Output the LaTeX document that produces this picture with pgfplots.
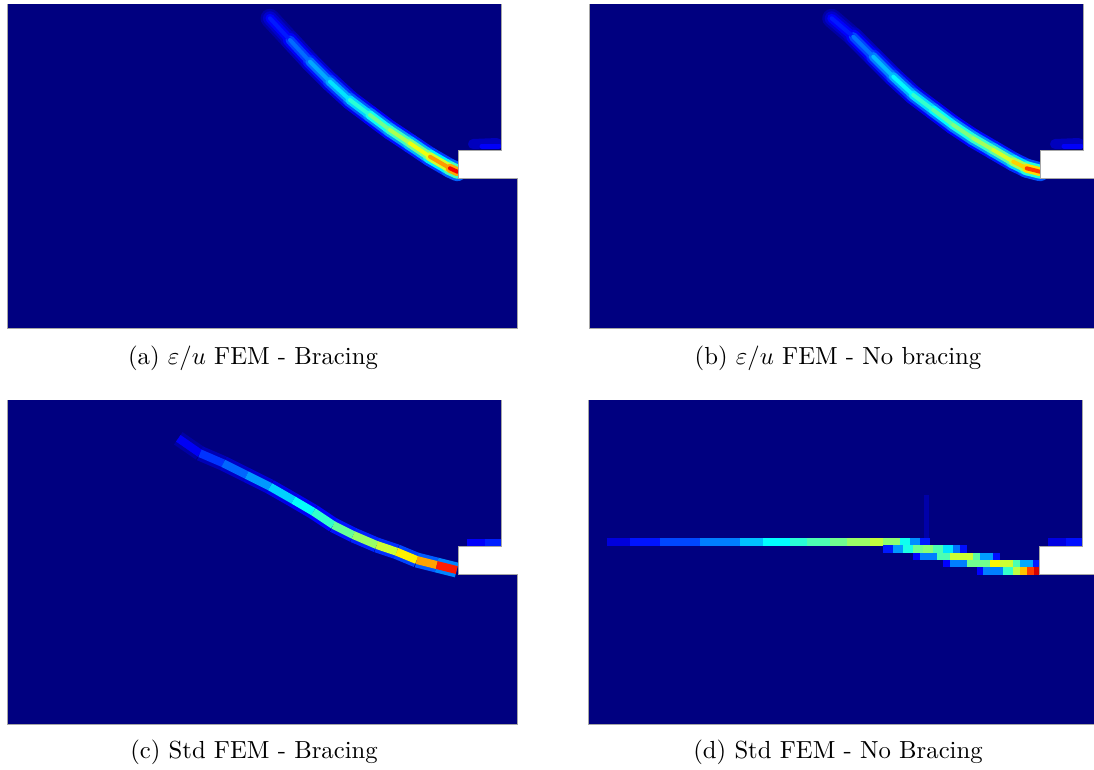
\documentclass[border=0pt]{standalone}
\usepackage{pgfplots}
\usepackage{pgfplotstable}
\pgfplotsset{compat=1.18}
\definecolor{navy}{RGB}{0,0,128}
\pgfplotsset{
  colormap={jetm}{rgb255(0cm)=(0,0,128) rgb255(1cm)=(0,0,255) rgb255(3cm)=(0,255,255) rgb255(5cm)=(255,255,0) rgb255(7cm)=(255,0,0) rgb255(8cm)=(128,0,0)},
  panel/.style={x=1bp,y=1bp,xmin=0,xmax=510,ymin=0,ymax=324,hide axis,clip=false,
    anchor=south west,colormap name=jetm,point meta min=0,point meta max=1},
}
% band centre lines (x, y, intensity)
\pgfplotstableread{
x y c
263 309.7 0.10
283 288 0.20
303 266.3 0.26
323 246.3 0.32
343 228 0.38
363 213 0.45
383 198 0.52
403 184.7 0.57
423 171.3 0.65
443 159.7 0.80
450.3 156.3 0.97
}\bandA
\pgfplotstableread{
x y c
242.7 309.7 0.10
264.3 291.3 0.20
284.3 271.3 0.28
304.3 251.3 0.34
324.3 233 0.40
344.3 218 0.45
364.3 203 0.48
384.3 189.7 0.52
404.3 178 0.55
424.3 166.3 0.62
437.7 159.7 0.72
451 156.3 0.92
}\bandB
\pgfplotstableread{
x y c
171.3 285.7 0.08
193 270.7 0.15
216.3 260.7 0.20
239.7 249 0.25
263 237.3 0.30
286.3 224 0.36
306.3 212.3 0.40
326.3 199 0.45
346.3 189 0.50
369.7 179 0.55
389.7 172.3 0.60
409.7 164 0.68
429.7 159 0.75
449.7 154 0.95
}\bandC
\pgfplotstableread{
x y c
18.7 182 0.06
42 182 0.12
72 182 0.17
112 182 0.22
152 182 0.28
175 182 0.35
202 182 0.40
219 182 0.43
242 182 0.47
259 182 0.50
282 182 0.55
295 182 0.58
312 182 0.45
322 182 0.33
332 182 0.20
342 182 0.10
}\rowDa
\pgfplotstableread{
x y c
295 175 0.10
305 175 0.20
315 175 0.35
325 175 0.45
335 175 0.52
345 175 0.50
355 175 0.40
365 175 0.30
372 175 0.18
379 175 0.10
}\rowDb
\pgfplotstableread{
x y c
325 167.7 0.10
332 167.7 0.15
349 167.7 0.35
362 167.7 0.55
375 167.7 0.60
385 167.7 0.55
392 167.7 0.38
405 167.7 0.18
412 167.7 0.10
}\rowDc
\pgfplotstableread{
x y c
355 160.3 0.10
362 160.3 0.15
379 160.3 0.35
402 160.3 0.62
412 160.3 0.65
425 160.3 0.50
432 160.3 0.40
445 160.3 0.18
452 160.3 0.12
}\rowDd
\pgfplotstableread{
x y c
389 153 0.10
395 153 0.15
415 153 0.35
425 153 0.50
432 153 0.62
439 153 0.75
446 153 0.88
452 153 0.95
}\rowDe
\begin{document}
\begin{tikzpicture}
\path[use as bounding box] (0,0) rectangle (1094bp,-770bp);
% ---------- (a)
\begin{axis}[panel, at={(7bp,-328bp)}]
\addplot[fill=navy,draw=none] coordinates {(0,0) (510,0) (510,150) (451,150) (451,178) (494.7,178) (494.7,324) (0,324)} -- cycle;
\addplot[mesh,line width=10bp,line cap=round,point meta=0.06] coordinates {(466,184) (490,185)};
\addplot[mesh,line width=5bp,line cap=round,point meta=0.12] coordinates {(475,182) (492,182)};
\addplot[mesh,line width=19bp,line cap=round,point meta={\thisrow{c}*0.25}] table {\bandA};
\addplot[mesh,line width=14bp,line cap=round,point meta={\thisrow{c}*0.5}] table {\bandA};
\addplot[mesh,line width=9bp,line cap=round,point meta={\thisrow{c}*0.8}] table {\bandA};
\addplot[mesh,line width=4bp,line cap=round,point meta={\thisrow{c}}] table {\bandA};
\addplot[fill=white,draw=none] coordinates {(451,150) (520,150) (520,178) (451,178)} -- cycle;
\addplot[fill=white,draw=none] coordinates {(494.7,178) (520,178) (520,330) (494.7,330)} -- cycle;
\addplot[draw=gray!70,line width=0.8bp] coordinates {(0,324) (0,0) (510,0) (510,150) (451,150) (451,178) (494.7,178) (494.7,324)};
\end{axis}
% ---------- (b)
\begin{axis}[panel, at={(589bp,-328bp)}]
\addplot[fill=navy,draw=none] coordinates {(0,0) (510,0) (510,150) (451,150) (451,178) (494.7,178) (494.7,324) (0,324)} -- cycle;
\addplot[mesh,line width=10bp,line cap=round,point meta=0.06] coordinates {(466,184) (490,185)};
\addplot[mesh,line width=5bp,line cap=round,point meta=0.12] coordinates {(475,182) (492,182)};
\addplot[mesh,line width=19bp,line cap=round,point meta={\thisrow{c}*0.25}] table {\bandB};
\addplot[mesh,line width=14bp,line cap=round,point meta={\thisrow{c}*0.5}] table {\bandB};
\addplot[mesh,line width=9bp,line cap=round,point meta={\thisrow{c}*0.8}] table {\bandB};
\addplot[mesh,line width=4bp,line cap=round,point meta={\thisrow{c}}] table {\bandB};
\addplot[fill=white,draw=none] coordinates {(451,150) (520,150) (520,178) (451,178)} -- cycle;
\addplot[fill=white,draw=none] coordinates {(494.7,178) (520,178) (520,330) (494.7,330)} -- cycle;
\addplot[draw=gray!70,line width=0.8bp] coordinates {(0,324) (0,0) (510,0) (510,150) (451,150) (451,178) (494.7,178) (494.7,324)};
\end{axis}
% ---------- (c)
\begin{axis}[panel, at={(7bp,-724bp)}]
\addplot[fill=navy,draw=none] coordinates {(0,0) (510,0) (510,150) (451,150) (451,178) (494.7,178) (494.7,324) (0,324)} -- cycle;
\addplot[mesh,line width=7bp,line cap=butt,point meta=explicit] coordinates {(460,182) [0.10] (478,182) [0.14] (494.7,182) [0.17]};
\addplot[mesh,line width=15bp,line cap=butt,point meta={\thisrow{c}*0.3}] table {\bandC};
\addplot[mesh,line width=8bp,line cap=butt,point meta={\thisrow{c}}] table {\bandC};
\addplot[fill=white,draw=none] coordinates {(451,150) (520,150) (520,178) (451,178)} -- cycle;
\addplot[fill=white,draw=none] coordinates {(494.7,178) (520,178) (520,330) (494.7,330)} -- cycle;
\addplot[draw=gray!70,line width=0.8bp] coordinates {(0,324) (0,0) (510,0) (510,150) (451,150) (451,178) (494.7,178) (494.7,324)};
\end{axis}
% ---------- (d)
\begin{axis}[panel, at={(588bp,-724bp)}]
\addplot[fill=navy,draw=none] coordinates {(0,0) (510,0) (510,150) (451,150) (451,178) (494.7,178) (494.7,324) (0,324)} -- cycle;
\addplot[mesh,line width=5bp,line cap=butt,point meta=0.04] coordinates {(338.7,186) (338.7,229)};
\addplot[mesh,line width=7.5bp,line cap=butt,point meta=explicit] coordinates {(460,182) [0.07] (478,182) [0.12] (494.7,182) [0.16]};
\addplot[mesh,line width=7.5bp,line cap=butt,point meta={\thisrow{c}}] table {\rowDa};
\addplot[mesh,line width=7.5bp,line cap=butt,point meta={\thisrow{c}}] table {\rowDb};
\addplot[mesh,line width=7.5bp,line cap=butt,point meta={\thisrow{c}}] table {\rowDc};
\addplot[mesh,line width=7.5bp,line cap=butt,point meta={\thisrow{c}}] table {\rowDd};
\addplot[mesh,line width=7.5bp,line cap=butt,point meta={\thisrow{c}}] table {\rowDe};
\addplot[fill=white,draw=none] coordinates {(451,150) (520,150) (520,178) (451,178)} -- cycle;
\addplot[fill=white,draw=none] coordinates {(494.7,178) (520,178) (520,330) (494.7,330)} -- cycle;
\addplot[draw=gray!70,line width=0.8bp] coordinates {(0,324) (0,0) (510,0) (510,150) (451,150) (451,178) (494.7,178) (494.7,324)};
\end{axis}
% ---------- captions
\node[anchor=base,scale=2.48] at (253bp,-364bp) {(a) $\varepsilon/u$ FEM - Bracing};
\node[anchor=base,scale=2.48] at (838bp,-364bp) {(b) $\varepsilon/u$ FEM - No bracing};
\node[anchor=base,scale=2.48] at (254bp,-758bp) {(c) Std FEM - Bracing};
\node[anchor=base,scale=2.48] at (838bp,-758bp) {(d) Std FEM - No Bracing};
\end{tikzpicture}
\end{document}
